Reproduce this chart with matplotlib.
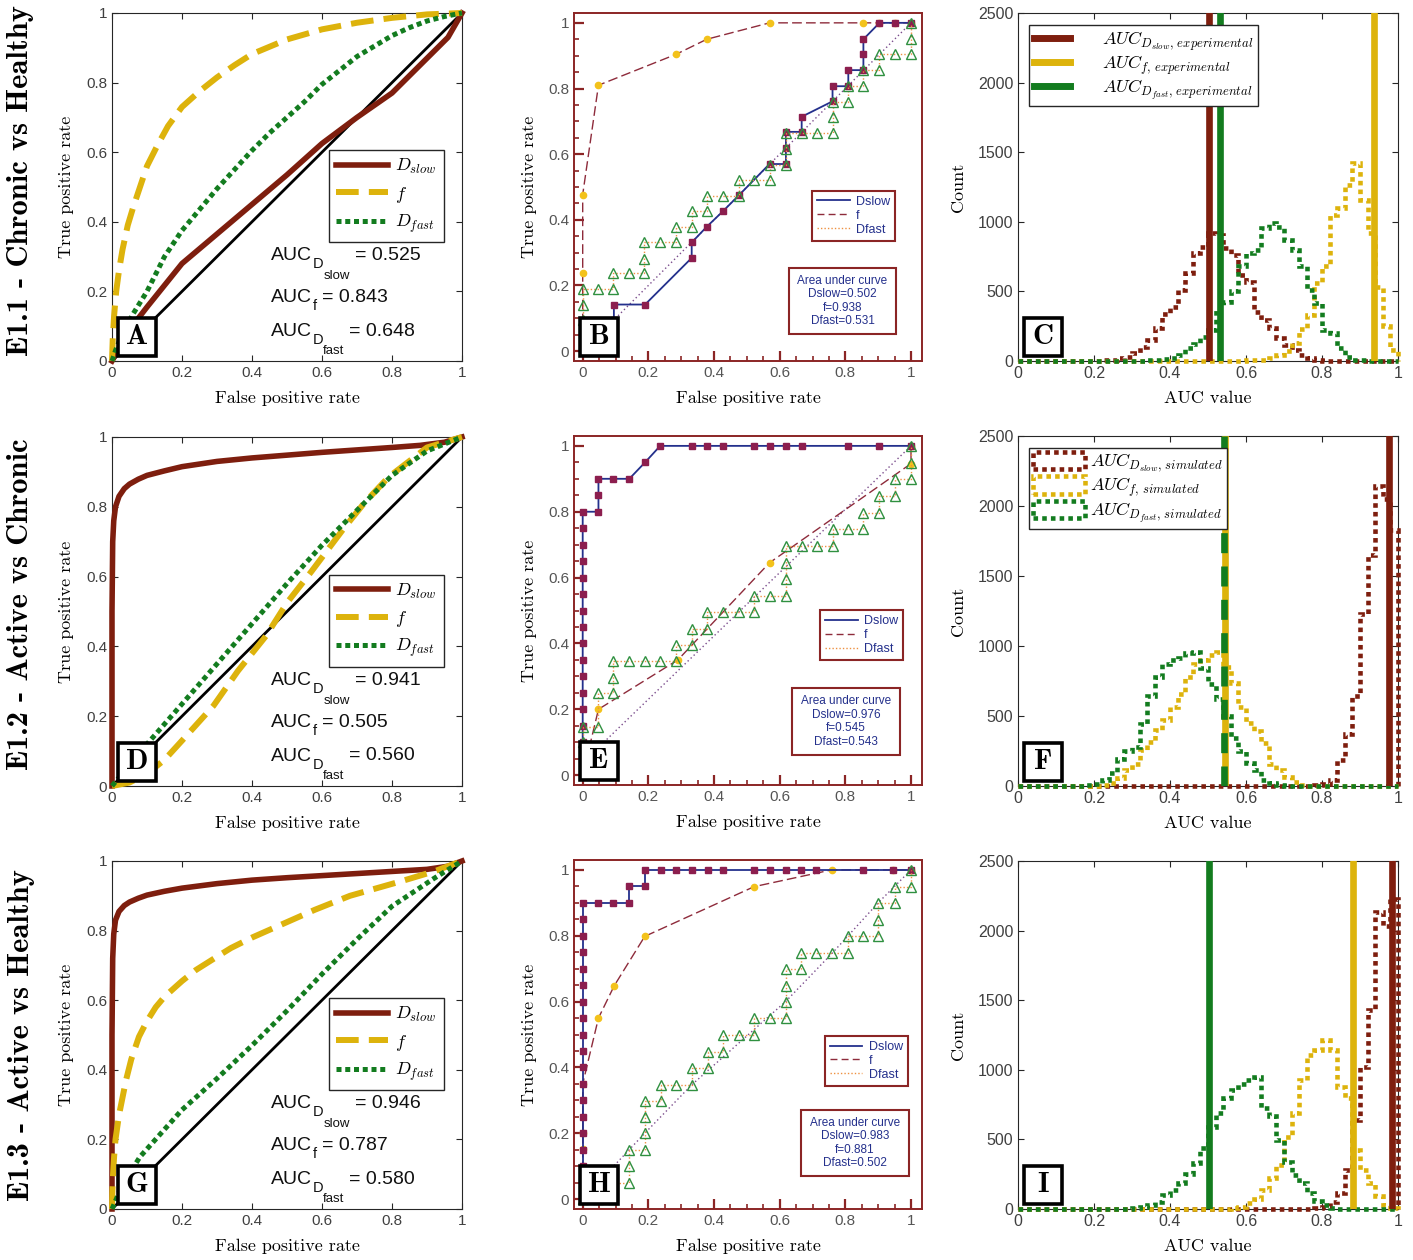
import matplotlib
matplotlib.use("Agg")
import matplotlib.pyplot as plt
import numpy as np
from matplotlib.patches import Rectangle, Patch
from matplotlib.lines import Line2D

# ---------------- column 1: smooth ROC curves ----------------
a_slow_x = [0, 0.05, 0.1, 0.2, 0.3, 0.4, 0.5, 0.6, 0.7, 0.8, 0.9, 0.96, 1]
a_slow_y = [0, 0.09, 0.155, 0.28, 0.365, 0.45, 0.535, 0.625, 0.7, 0.77, 0.87, 0.93, 1]
a_f_x = [0, 0.002, 0.006, 0.012, 0.02, 0.03, 0.045, 0.06, 0.08, 0.1, 0.13, 0.16, 0.2, 0.25, 0.3,
         0.35, 0.4, 0.5, 0.6, 0.7, 0.8, 0.9, 1]
a_f_y = [0, 0.06, 0.13, 0.2, 0.26, 0.32, 0.39, 0.44, 0.5, 0.56, 0.62, 0.675, 0.73, 0.775, 0.815,
         0.85, 0.882, 0.924, 0.953, 0.972, 0.986, 0.996, 1]
a_fast_x = [0, 0.01, 0.03, 0.06, 0.1, 0.15, 0.2, 0.25, 0.3, 0.35, 0.4, 0.45, 0.5, 0.55, 0.6, 0.65,
            0.7, 0.75, 0.8, 0.85, 0.9, 0.95, 1]
a_fast_y = [0, 0.03, 0.08, 0.135, 0.2, 0.3, 0.375, 0.435, 0.495, 0.55, 0.605, 0.655, 0.7, 0.745,
            0.795, 0.835, 0.875, 0.905, 0.935, 0.958, 0.977, 0.99, 1]
a_auc = ["0.525", "0.843", "0.648"]

d_slow_x = [0, 0, 0.002, 0.005, 0.01, 0.02, 0.035, 0.05, 0.075, 0.1, 0.15, 0.2, 0.3, 0.4, 0.5, 0.6,
            0.7, 0.8, 0.88, 0.95, 1]
d_slow_y = [0, 0.5, 0.7, 0.76, 0.8, 0.83, 0.852, 0.865, 0.879, 0.89, 0.903, 0.915, 0.93, 0.94,
            0.948, 0.956, 0.963, 0.97, 0.976, 0.985, 1]
d_f_x = [0, 0.05, 0.1, 0.15, 0.2, 0.29, 0.36, 0.44, 0.5, 0.57, 0.66, 0.72, 0.79, 0.9, 1]
d_f_y = [0, 0.01, 0.035, 0.075, 0.13, 0.23, 0.33, 0.43, 0.525, 0.615, 0.735, 0.81, 0.885, 0.97, 1]
d_fast_x = [0, 0.1, 0.2, 0.3, 0.4, 0.5, 0.6, 0.7, 0.8, 0.9, 1]
d_fast_y = [0, 0.12, 0.235, 0.35, 0.465, 0.58, 0.69, 0.79, 0.89, 0.96, 1]
d_auc = ["0.941", "0.505", "0.560"]

g_slow_x = [0, 0, 0.002, 0.005, 0.01, 0.02, 0.035, 0.05, 0.075, 0.1, 0.15, 0.2, 0.3, 0.4, 0.5, 0.6,
            0.7, 0.8, 0.9, 0.96, 1]
g_slow_y = [0, 0.5, 0.72, 0.79, 0.83, 0.855, 0.872, 0.882, 0.893, 0.902, 0.913, 0.922, 0.935, 0.945,
            0.952, 0.958, 0.964, 0.97, 0.976, 0.985, 1]
g_f_x = [0, 0.001, 0.003, 0.006, 0.01, 0.02, 0.03, 0.04, 0.055, 0.077, 0.1, 0.125, 0.15, 0.2, 0.24,
         0.3, 0.34, 0.4, 0.49, 0.58, 0.68, 0.75, 0.82, 0.92, 1]
g_f_y = [0, 0.05, 0.1, 0.15, 0.2, 0.27, 0.32, 0.37, 0.43, 0.495, 0.54, 0.58, 0.61, 0.655, 0.687,
         0.725, 0.75, 0.78, 0.82, 0.86, 0.9, 0.92, 0.94, 0.97, 1]
g_fast_x = [0, 0.03, 0.08, 0.2, 0.3, 0.4, 0.5, 0.6, 0.7, 0.8, 0.92, 1]
g_fast_y = [0, 0.07, 0.15, 0.285, 0.375, 0.47, 0.57, 0.675, 0.775, 0.87, 0.95, 1]
g_auc = ["0.946", "0.787", "0.580"]

# ---------------- column 2: empirical ROC (step curves) ----------------
b_slow_x = [0, 0.095, 0.095, 0.19, 0.332, 0.332, 0.378, 0.428, 0.476, 0.569, 0.619, 0.619, 0.619,
            0.667, 0.667, 0.761, 0.761, 0.809, 0.809, 0.855, 0.855, 0.855, 0.904, 0.95, 1]
b_slow_y = [0, 0.095, 0.142, 0.142, 0.284, 0.331, 0.379, 0.427, 0.475, 0.57, 0.57, 0.62, 0.668,
            0.668, 0.714, 0.761, 0.807, 0.807, 0.856, 0.856, 0.904, 0.95, 1, 1, 1]
b_f_x = [0, 0, 0, 0.048, 0.284, 0.378, 0.569, 0.855, 0.904, 0.95, 1]
b_f_y = [0, 0.239, 0.477, 0.81, 0.904, 0.95, 1, 1, 1, 1, 1]
b_fast_x = [0, 0, 0, 0.048, 0.093, 0.093, 0.142, 0.188, 0.188, 0.188, 0.236, 0.284, 0.284, 0.332,
            0.332, 0.378, 0.378, 0.428, 0.476, 0.476, 0.523, 0.569, 0.569, 0.619, 0.619, 0.619,
            0.667, 0.713, 0.761, 0.761, 0.761, 0.809, 0.809, 0.855, 0.855, 0.904, 0.904, 0.95, 1, 1, 1]
b_fast_y = [0.095, 0.14, 0.188, 0.188, 0.188, 0.237, 0.237, 0.237, 0.282, 0.331, 0.331, 0.331, 0.377,
            0.377, 0.426, 0.426, 0.473, 0.473, 0.473, 0.52, 0.52, 0.52, 0.568, 0.568, 0.617, 0.665,
            0.665, 0.665, 0.665, 0.712, 0.76, 0.76, 0.807, 0.807, 0.856, 0.856, 0.904, 0.904, 0.904, 0.95, 1]
b_ref_x = [0, 1]
b_ref_y = [0, 1]
b_auc = ["0.502", "0.938", "0.531"]

e_slow_x = [0, 0, 0, 0, 0, 0, 0, 0, 0, 0, 0, 0, 0, 0, 0, 0,
            0.048, 0.048, 0.048, 0.093, 0.142, 0.19, 0.236, 0.332, 0.378, 0.428, 0.523, 0.569,
            0.619, 0.667, 0.809, 0.904, 1]
e_slow_y = [0, 0.1, 0.15, 0.2, 0.25, 0.3, 0.35, 0.4, 0.45, 0.5, 0.55, 0.6, 0.65, 0.7, 0.75, 0.8,
            0.8, 0.85, 0.9, 0.9, 0.9, 0.95, 1, 1, 1, 1, 1, 1, 1, 1, 1, 1, 1]
e_f_x = [0, 0.048, 0.29, 0.569, 1, 1]
e_f_y = [0, 0.2, 0.35, 0.645, 0.946, 1]
e_fast_x = [0, 0, 0.048, 0.048, 0.093, 0.093, 0.093, 0.142, 0.19, 0.236, 0.284, 0.284, 0.332, 0.332,
            0.378, 0.378, 0.428, 0.476, 0.523, 0.523, 0.569, 0.619, 0.619, 0.619, 0.619, 0.667,
            0.713, 0.761, 0.761, 0.809, 0.855, 0.855, 0.904, 0.904, 0.95, 0.95, 1, 1, 1]
e_fast_y = [0.1, 0.147, 0.147, 0.248, 0.248, 0.294, 0.347, 0.347, 0.347, 0.347, 0.347, 0.395, 0.395,
            0.444, 0.444, 0.496, 0.496, 0.496, 0.496, 0.545, 0.545, 0.545, 0.595, 0.645, 0.696,
            0.696, 0.696, 0.696, 0.747, 0.747, 0.747, 0.795, 0.795, 0.848, 0.848, 0.899, 0.899, 0.947, 1]
e_ref_x = [0, 1]
e_ref_y = [0.038, 1]
e_auc = ["0.976", "0.545", "0.543"]

h_slow_x = [0, 0, 0, 0, 0, 0, 0, 0, 0, 0, 0, 0, 0, 0, 0, 0, 0, 0, 0,
            0.048, 0.093, 0.141, 0.141, 0.189, 0.189, 0.239, 0.285, 0.332, 0.381, 0.428, 0.522,
            0.57, 0.618, 0.664, 0.711, 0.853, 0.946, 1]
h_slow_y = [0, 0.05, 0.1, 0.15, 0.2, 0.25, 0.3, 0.35, 0.4, 0.45, 0.5, 0.55, 0.6, 0.65, 0.7, 0.75,
            0.8, 0.85, 0.9, 0.9, 0.9, 0.9, 0.95, 0.95, 1, 1, 1, 1, 1, 1, 1, 1, 1, 1, 1, 1, 1, 1]
h_f_x = [0, 0, 0, 0, 0, 0.048, 0.096, 0.189, 0.522, 0.758, 0.946, 1]
h_f_y = [0, 0.1, 0.152, 0.2, 0.35, 0.55, 0.648, 0.798, 0.949, 1, 1, 1]
h_fast_x = [0, 0.048, 0.093, 0.093, 0.141, 0.141, 0.141, 0.189, 0.189, 0.189, 0.189, 0.239, 0.239,
            0.285, 0.332, 0.332, 0.381, 0.381, 0.428, 0.428, 0.477, 0.522, 0.522, 0.57, 0.618, 0.618,
            0.618, 0.618, 0.664, 0.664, 0.711, 0.76, 0.808, 0.808, 0.853, 0.9, 0.9, 0.9, 0.951, 0.951, 1, 1]
h_fast_y = [0, 0, 0, 0.05, 0.05, 0.1, 0.15, 0.15, 0.2, 0.25, 0.297, 0.297, 0.347, 0.347, 0.347, 0.398,
            0.398, 0.448, 0.448, 0.499, 0.499, 0.499, 0.55, 0.55, 0.55, 0.598, 0.648, 0.699, 0.699,
            0.747, 0.747, 0.747, 0.747, 0.798, 0.798, 0.798, 0.848, 0.899, 0.899, 0.949, 0.949, 1]
h_ref_x = [0, 0.098, 0.189, 0.332, 0.618, 0.76, 0.9, 1]
h_ref_y = [0, 0.104, 0.2, 0.347, 0.6, 0.747, 0.9, 1]
h_auc = ["0.983", "0.881", "0.502"]

# ---------------- column 3: AUC histograms (bin width 0.02) ----------------
c_slow_start, c_slow_counts = 0.22, [5, 10, 20, 30, 55, 100, 150, 235, 340, 390, 510, 630, 775, 820, 920,
                                     905, 810, 760, 620, 570, 355, 295, 235, 165, 115, 80, 45, 20, 10]
c_f_start, c_f_counts = 0.60, [5, 5, 10, 20, 40, 70, 130, 230, 330, 560, 680, 1050, 1100, 1265, 1420,
                               1160, 920, 535, 250, 80]
c_fast_start, c_fast_counts = 0.34, [5, 10, 15, 25, 40, 90, 125, 175, 220, 380, 425, 500, 680, 775, 800,
                                     955, 990, 965, 870, 800, 680, 510, 415, 225, 200, 90, 30, 10, 5]
c_vlines = [0.502, 0.938, 0.531]

f_slow_start, f_slow_counts = 0.78, [5, 15, 40, 185, 375, 640, 1230, 1650, 2140, 2050, 1830]
f_f_start, f_f_counts = 0.22, [10, 20, 55, 115, 160, 255, 315, 400, 470, 565, 660, 780, 875, 900, 935,
                               960, 850, 733, 565, 448, 390, 305, 160, 115, 65, 30, 10]
f_fast_start, f_fast_counts = 0.18, [5, 15, 40, 90, 190, 250, 280, 440, 640, 780, 875, 900, 912, 948, 960,
                                     840, 730, 620, 500, 340, 250, 165, 115, 45, 20, 5]
f_vlines = [0.976, 0.545, 0.543]

i_slow_start, i_slow_counts = 0.78, [5, 15, 50, 115, 280, 640, 1020, 1430, 2135, 2030, 2230]
i_f_start, i_f_counts = 0.56, [5, 15, 40, 75, 135, 220, 315, 520, 690, 925, 1105, 1140, 1215, 1140, 880,
                               795, 425, 280, 185, 90, 30, 10]
i_fast_start, i_fast_counts = 0.30, [10, 15, 30, 50, 100, 135, 185, 255, 330, 435, 590, 690, 795, 855, 900,
                                     925, 950, 725, 665, 495, 340, 245, 185, 115, 55, 30, 10]
i_vlines = [0.983, 0.881, 0.502]

row_titles = ["E1.1 - Chronic vs Healthy", "E1.2 - Active vs Chronic", "E1.3 - Active vs Healthy"]
tick_vals = [0, 0.2, 0.4, 0.6, 0.8, 1]
tick_labels = ["0", "0.2", "0.4", "0.6", "0.8", "1"]

plt.rcParams["font.family"] = ["Liberation Sans", "DejaVu Sans"]
plt.rcParams["mathtext.fontset"] = "cm"
plt.rcParams["mathtext.rm"] = "Liberation Sans"
plt.rcParams["mathtext.it"] = "Liberation Sans:italic"
plt.rcParams["mathtext.bf"] = "Liberation Sans:bold"

MAROON = "#7E1E0E"
YELLOW = "#DDB30C"
GREEN = "#137C1F"
GREY = "#404040"

W, H = 1413, 1260
fig = plt.figure(figsize=(W / 100, H / 100), dpi=100)


def add_ax(left, top, right, bottom):
    return fig.add_axes([left / W, 1 - bottom / H, (right - left) / W, (bottom - top) / H])


def letter_box(ax, letter):
    bb = ax.get_position()
    aw, ah = bb.width * W, bb.height * H
    s, x0, y0 = 38, 6, 5
    ax.add_patch(Rectangle((x0 / aw, y0 / ah), s / aw, s / ah, transform=ax.transAxes,
                           facecolor="white", edgecolor="black", lw=2.6, zorder=20, clip_on=False))
    ax.text((x0 + s / 2) / aw, (y0 + s / 2) / ah, letter, transform=ax.transAxes, ha="center",
            va="center", family="cmb10", fontsize=21, zorder=21)


def matlab_axes(ax):
    for sp in ax.spines.values():
        sp.set_color("#262626")
        sp.set_linewidth(0.8)
    ax.tick_params(direction="in", top=True, right=True, length=4, width=0.8,
                   labelsize=11, labelcolor=GREY, color="#262626")


def auc_label(ax, y, sub, subsub, value):
    t = ax.text(0.454, y, "AUC", transform=ax.transAxes, fontsize=14, va="baseline", color="#111111")
    s1 = ax.annotate(sub, xy=(1, 0), xycoords=t, xytext=(0.5, -3), textcoords="offset points",
                     fontsize=10.5, va="baseline", color="#111111")
    last = s1
    if subsub:
        last = ax.annotate(subsub, xy=(1, 0), xycoords=s1, xytext=(0, -5.5), textcoords="offset points",
                           fontsize=9.5, va="baseline", color="#111111")
    ax.annotate("= " + value, xy=(1, 0), xycoords=(last, t), xytext=(3.5, 2.9),
                textcoords="offset points", fontsize=14, va="baseline", color="#111111")


def roc_panel(ax, slow, f, fast, aucs, letter):
    ax.plot([0, 1], [0, 1], color="black", lw=2, zorder=2)
    ax.plot(slow[0], slow[1], color=MAROON, lw=4, label=r"$D_{slow}$", clip_on=False, zorder=3)
    ax.plot(f[0], f[1], color=YELLOW, lw=4.3, ls=(0, (3.8, 1.7)), label=r"$f$", clip_on=False, zorder=4)
    ax.plot(fast[0], fast[1], color=GREEN, lw=3.6, ls=(0, (1, 0.75)), label=r"$D_{fast}$",
            clip_on=False, zorder=5)
    ax.set_xlim(0, 1)
    ax.set_ylim(0, 1)
    ax.set_xticks(tick_vals, tick_labels)
    ax.set_yticks(tick_vals, tick_labels)
    matlab_axes(ax)
    leg = ax.legend(loc="upper right", bbox_to_anchor=(0.949, 0.606), fontsize=13, handlelength=2.9,
                    fancybox=False, edgecolor="#262626", framealpha=1, borderaxespad=0, borderpad=0.4,
                    labelspacing=0.45, handletextpad=0.4)
    leg.get_frame().set_linewidth(1)
    auc_label(ax, 0.29, "D", "slow", aucs[0])
    auc_label(ax, 0.17, "f", None, aucs[1])
    auc_label(ax, 0.073, "D", "fast", aucs[2])
    ax.set_xlabel("False positive rate", family="cmr10", fontsize=13)
    ax.set_ylabel("True positive rate", family="cmr10", fontsize=13)
    ax.xaxis.set_label_coords(0.5, -0.085)
    ax.yaxis.set_label_coords(-0.108, 0.5)
    letter_box(ax, letter)


def scan_panel(ax, slow, f, fast, ref, aucs, leg_anchor, box, letter):
    navy = "#24308C"
    red = "#8B2525"
    ax.plot(ref[0], ref[1], color="#7A4C8C", lw=1, ls=(0, (1, 2)), zorder=2)
    ax.plot(f[0], f[1], color="#8E2B3B", lw=1, ls=(0, (7, 3)), marker="o", ms=4.5,
            mfc="#F3C21B", mec="#F3C21B", zorder=3)
    ax.plot(slow[0], slow[1], color=navy, lw=1.3, marker="s", ms=5, mfc="#8C1E4E", mec="#8C1E4E", zorder=4)
    ax.plot(fast[0], fast[1], color="#EE9040", lw=1, ls=(0, (1, 1.5)), marker="^", ms=6.5,
            mfc="none", mec="#2F9040", mew=1, zorder=5)
    ax.set_xlim(-0.0265, 1.0335)
    ax.set_ylim(-0.03, 1.03)
    ax.set_xticks(tick_vals, tick_labels)
    ax.set_yticks(tick_vals, tick_labels)
    minor = [v / 20 for v in range(21) if v % 4]
    ax.set_xticks(minor, minor=True)
    ax.set_yticks(minor, minor=True)
    for sp in ax.spines.values():
        sp.set_color(red)
        sp.set_linewidth(1.4)
    ax.tick_params(which="major", direction="in", length=7, width=1.6, color=red,
                   labelsize=11, labelcolor="#555555")
    ax.tick_params(which="minor", direction="in", length=3.5, width=1.2, color=red)
    handles = [Line2D([], [], color=navy, lw=1.3),
               Line2D([], [], color="#8E2B3B", lw=1, ls=(0, (5, 3))),
               Line2D([], [], color="#EE9040", lw=1, ls=(0, (1, 1.5)))]
    leg = ax.legend(handles, ["Dslow", "f", "Dfast"], loc="upper left", bbox_to_anchor=leg_anchor,
                    fontsize=9, labelcolor=navy, handlelength=2.6, fancybox=False, edgecolor=red,
                    framealpha=1, borderaxespad=0, borderpad=0.4, labelspacing=0.15, handletextpad=0.5)
    leg.get_frame().set_linewidth(1.5)
    x0, y0, x1, y1 = box
    ax.add_patch(Rectangle((x0, y1), x1 - x0, y0 - y1, transform=ax.transAxes, facecolor="white",
                           edgecolor=red, lw=1.5, zorder=8))
    ax.text((x0 + x1) / 2, (y0 + y1) / 2,
            "Area under curve\nDslow=%s\nf=%s\nDfast=%s" % tuple(aucs),
            transform=ax.transAxes, ha="center", va="center", fontsize=8.5, color=navy,
            linespacing=1.15, zorder=9)
    ax.set_xlabel("False positive rate", family="cmr10", fontsize=13)
    ax.set_ylabel("True positive rate", family="cmr10", fontsize=13)
    ax.xaxis.set_label_coords(0.5, -0.085)
    ax.yaxis.set_label_coords(-0.106, 0.5)
    letter_box(ax, letter)


def hist_panel(ax, series, vlines, legend_kind, letter):
    edges = np.linspace(0, 1, 51)
    for start, counts, color in series:
        full = np.zeros(50)
        i0 = int(round(start / 0.02))
        full[i0:i0 + len(counts)] = counts
        ax.stairs(full, edges, color=color, lw=3.3, ls=(0, (1, 0.9)), baseline=0, clip_on=False, zorder=3)
    slow_x, f_x, fast_x = vlines
    ax.axvline(slow_x, color=MAROON, lw=4.8, zorder=4)
    ax.axvline(f_x, color=YELLOW, lw=4.8, zorder=4)
    if abs(f_x - fast_x) < 0.01:
        ax.axvline(fast_x, color=GREEN, lw=4.8, ls=(0, (3, 2)), zorder=5)
    else:
        ax.axvline(fast_x, color=GREEN, lw=4.8, zorder=4)
    ax.set_xlim(0, 1)
    ax.set_ylim(0, 2500)
    ax.set_xticks(tick_vals, tick_labels)
    ax.set_yticks([0, 500, 1000, 1500, 2000, 2500])
    matlab_axes(ax)
    ax.tick_params(labelsize=11.5)
    colors = [MAROON, YELLOW, GREEN]
    if legend_kind == "experimental":
        handles = [Line2D([], [], color=c, lw=5) for c in colors]
        labels = [r"$AUC_{D_{slow},\,experimental}$", r"$AUC_{f,\,experimental}$",
                  r"$AUC_{D_{fast},\,experimental}$"]
        leg = ax.legend(handles, labels, loc="upper left", bbox_to_anchor=(0.029, 0.966), fontsize=13,
                        handlelength=2.0, handletextpad=1.8, fancybox=False, edgecolor="#262626",
                        framealpha=1, borderaxespad=0, borderpad=0.25, labelspacing=0.05)
        leg.get_frame().set_linewidth(1)
    elif legend_kind == "simulated":
        handles = [Patch(facecolor="none", edgecolor=c, lw=3.3, ls=(0, (1, 0.9))) for c in colors]
        labels = [r"$AUC_{D_{slow},\,simulated}$", r"$AUC_{f,\,simulated}$",
                  r"$AUC_{D_{fast},\,simulated}$"]
        leg = ax.legend(handles, labels, loc="upper left", bbox_to_anchor=(0.029, 0.966), fontsize=13,
                        handlelength=2.9, handleheight=1.1, handletextpad=0.3, fancybox=False,
                        edgecolor="#262626", framealpha=1, borderaxespad=0, borderpad=0.2,
                        labelspacing=0.1)
        leg.get_frame().set_linewidth(1)
    ax.set_xlabel("AUC value", family="cmr10", fontsize=13)
    ax.set_ylabel("Count", family="cmr10", fontsize=13)
    ax.xaxis.set_label_coords(0.5, -0.085)
    ax.yaxis.set_label_coords(-0.136, 0.5)
    letter_box(ax, letter)


rows = [(13, 361), (437, 786), (861, 1209)]
col2_rows = [(13, 361), (436, 785), (860, 1209)]
col3_rows = [(13, 361), (436, 786), (861, 1209)]

roc_panel(add_ax(112, rows[0][0], 462, rows[0][1]), (a_slow_x, a_slow_y), (a_f_x, a_f_y),
          (a_fast_x, a_fast_y), a_auc, "A")
roc_panel(add_ax(112, rows[1][0], 462, rows[1][1]), (d_slow_x, d_slow_y), (d_f_x, d_f_y),
          (d_fast_x, d_fast_y), d_auc, "D")
roc_panel(add_ax(112, rows[2][0], 462, rows[2][1]), (g_slow_x, g_slow_y), (g_f_x, g_f_y),
          (g_fast_x, g_fast_y), g_auc, "G")

scan_panel(add_ax(574, col2_rows[0][0], 922, col2_rows[0][1]), (b_slow_x, b_slow_y), (b_f_x, b_f_y),
           (b_fast_x, b_fast_y), (b_ref_x, b_ref_y), b_auc, (0.684, 0.489), (0.618, 0.267, 0.925, 0.078), "B")
scan_panel(add_ax(574, col2_rows[1][0], 922, col2_rows[1][1]), (e_slow_x, e_slow_y), (e_f_x, e_f_y),
           (e_fast_x, e_fast_y), (e_ref_x, e_ref_y), e_auc, (0.707, 0.501), (0.626, 0.278, 0.937, 0.086), "E")
scan_panel(add_ax(574, col2_rows[2][0], 922, col2_rows[2][1]), (h_slow_x, h_slow_y), (h_f_x, h_f_y),
           (h_fast_x, h_fast_y), (h_ref_x, h_ref_y), h_auc, (0.721, 0.496), (0.652, 0.284, 0.963, 0.095), "H")

hist_panel(add_ax(1018, col3_rows[0][0], 1398, col3_rows[0][1]),
           [(c_slow_start, c_slow_counts, MAROON), (c_f_start, c_f_counts, YELLOW),
            (c_fast_start, c_fast_counts, GREEN)], c_vlines, "experimental", "C")
hist_panel(add_ax(1018, col3_rows[1][0], 1398, col3_rows[1][1]),
           [(f_slow_start, f_slow_counts, MAROON), (f_f_start, f_f_counts, YELLOW),
            (f_fast_start, f_fast_counts, GREEN)], f_vlines, "simulated", "F")
hist_panel(add_ax(1018, col3_rows[2][0], 1398, col3_rows[2][1]),
           [(i_slow_start, i_slow_counts, MAROON), (i_f_start, i_f_counts, YELLOW),
            (i_fast_start, i_fast_counts, GREEN)], i_vlines, None, "I")

for title, yc in zip(row_titles, [181, 604, 1035]):
    fig.text(21 / W, 1 - yc / H, title, rotation=90, ha="center", va="center",
             family="cmb10", fontsize=22)

fig.savefig("out.png", dpi=100, facecolor="white")
